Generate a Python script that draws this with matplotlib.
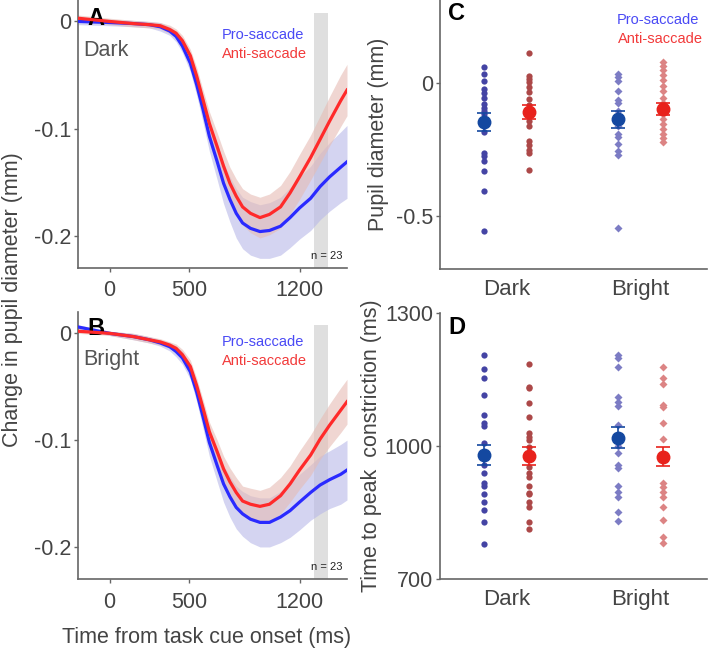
import numpy as np
import matplotlib
matplotlib.use("Agg")
import matplotlib.pyplot as plt

plt.rcParams['font.family'] = ['Liberation Sans', 'DejaVu Sans']

# ---- time courses (panels A, B) ----
t = [-200, 0, 150, 250, 320, 380, 420, 460, 510, 550, 590, 630, 680, 720, 760,
     800, 840, 890, 950, 1010, 1080, 1140, 1200, 1270, 1330, 1390, 1460, 1500]

dark_pro = [0.0, -0.001, -0.002, -0.003, -0.005, -0.009, -0.014, -0.023, -0.039,
            -0.059, -0.082, -0.107, -0.131, -0.151, -0.166, -0.179, -0.188,
            -0.193, -0.196, -0.195, -0.191, -0.183, -0.174, -0.165, -0.154,
            -0.145, -0.136, -0.131]
dark_anti = [0.003, 0.0, -0.002, -0.003, -0.004, -0.0075, -0.011, -0.018, -0.032,
             -0.051, -0.073, -0.095, -0.117, -0.135, -0.151, -0.163, -0.173,
             -0.179, -0.183, -0.180, -0.173, -0.160, -0.145, -0.127, -0.110,
             -0.093, -0.074, -0.064]
dark_pro_sem = [0.003, 0.003, 0.003, 0.003, 0.004, 0.004, 0.005, 0.006, 0.008,
                0.010, 0.012, 0.014, 0.017, 0.019, 0.021, 0.023, 0.024, 0.025,
                0.025, 0.026, 0.027, 0.028, 0.029, 0.030, 0.031, 0.032, 0.033,
                0.034]
dark_anti_sem = [0.003, 0.003, 0.003, 0.003, 0.003, 0.004, 0.004, 0.005, 0.006,
                 0.008, 0.009, 0.011, 0.013, 0.014, 0.015, 0.016, 0.017, 0.018,
                 0.019, 0.019, 0.020, 0.020, 0.021, 0.021, 0.022, 0.023, 0.024,
                 0.024]

bright_pro = [0.006, 0.0, -0.003, -0.006, -0.009, -0.0125, -0.017, -0.023, -0.036,
              -0.055, -0.078, -0.102, -0.124, -0.141, -0.153, -0.163, -0.169,
              -0.174, -0.177, -0.177, -0.172, -0.166, -0.158, -0.149, -0.142,
              -0.137, -0.132, -0.128]
bright_anti = [0.002, 0.0, -0.003, -0.006, -0.008, -0.011, -0.014, -0.020, -0.031,
               -0.049, -0.070, -0.092, -0.111, -0.127, -0.139, -0.149, -0.157,
               -0.160, -0.162, -0.160, -0.152, -0.141, -0.128, -0.114, -0.099,
               -0.086, -0.072, -0.064]
bright_pro_sem = [0.002, 0.002, 0.003, 0.003, 0.003, 0.004, 0.005, 0.006, 0.007,
                  0.009, 0.011, 0.013, 0.015, 0.017, 0.019, 0.020, 0.021, 0.022,
                  0.023, 0.023, 0.024, 0.025, 0.026, 0.026, 0.027, 0.027, 0.028,
                  0.028]
bright_anti_sem = [0.002, 0.002, 0.003, 0.003, 0.003, 0.003, 0.004, 0.005, 0.006,
                   0.007, 0.008, 0.009, 0.011, 0.012, 0.013, 0.014, 0.014, 0.015,
                   0.015, 0.016, 0.017, 0.017, 0.018, 0.019, 0.019, 0.020, 0.021,
                   0.021]

window = (1290, 1380)
x_ticks = [0, 500, 1200]

# ---- per-subject values (panels C, D) ----
conditions = ['Dark', 'Bright']

pd_dark_pro = [0.059, 0.034, 0.007, -0.024, -0.038, -0.057, -0.082, -0.094, -0.107,
               -0.119, -0.138, -0.163, -0.185, -0.265, -0.277, -0.293, -0.333,
               -0.409, -0.559]
pd_dark_anti = [0.111, 0.026, 0.014, 0.001, -0.016, -0.036, -0.061, -0.086, -0.103,
                -0.126, -0.144, -0.163, -0.219, -0.235, -0.253, -0.265, -0.327]
pd_bright_pro = [0.032, 0.020, 0.005, -0.030, -0.067, -0.078, -0.107, -0.128, -0.163,
                 -0.194, -0.206, -0.231, -0.256, -0.272, -0.546]
pd_bright_anti = [0.077, 0.061, 0.046, 0.030, 0.011, -0.014, -0.032, -0.057, -0.076,
                  -0.119, -0.138, -0.157, -0.175, -0.194, -0.210, -0.225]
pd_mean_pro = [-0.148, -0.138]
pd_sem_pro = [0.032, 0.032]
pd_mean_anti = [-0.111, -0.098]
pd_sem_anti = [0.026, 0.023]

tp_dark_pro = [1205, 1173, 1154, 1115, 1070, 1053, 1045, 1007, 980, 957, 938, 916,
               910, 892, 874, 856, 829, 778]
tp_dark_anti = [1185, 1132, 1130, 1096, 1065, 1029, 1021, 1014, 998, 984, 953, 938,
                931, 910, 893, 892, 874, 863, 829, 812]
tp_bright_pro = [1205, 1198, 1179, 1111, 1100, 1090, 1047, 1000, 984, 957, 950,
                 910, 897, 884, 852, 831]
tp_bright_anti = [1178, 1153, 1140, 1093, 1088, 1053, 1015, 916, 907, 897, 884,
                  863, 833, 795, 782]
tp_mean_pro = [980, 1019]
tp_sem_pro = [23, 23]
tp_mean_anti = [977, 976]
tp_sem_anti = [20, 22]

# colours
c_pro_line = '#2a2aff'
c_anti_line = '#ff2a2a'
c_pro_band = '#b8b8e8'
c_anti_band = '#e6bcb4'
c_text = '#444444'
c_spine = '#666666'

fig = plt.figure(figsize=(7.10, 6.49), dpi=100)

W, H = 710.0, 649.0
def box(l, r, top, bot):
    return [l / W, 1 - bot / H, (r - l) / W, (bot - top) / H]

axA = fig.add_axes(box(78, 347, 0, 268))
axB = fig.add_axes(box(78, 347, 312, 579))
axC = fig.add_axes(box(440, 707, 0, 269))
axD = fig.add_axes(box(440, 707, 313, 579))


def style(ax):
    for s in ['top', 'right']:
        ax.spines[s].set_visible(False)
    for s in ['left', 'bottom']:
        ax.spines[s].set_color(c_spine)
        ax.spines[s].set_linewidth(1.2)
    ax.tick_params(colors=c_spine, labelcolor=c_text, labelsize=15.5, length=3,
                   width=1, pad=2)


def timecourse(ax, pro, pro_sem, anti, anti_sem, label, letter, pos):
    tt = np.array(t)
    pro, pro_sem = np.array(pro), np.array(pro_sem)
    anti, anti_sem = np.array(anti), np.array(anti_sem)
    ax.axvspan(window[0], window[1], ymax=0.95, color='#dcdcdc', alpha=0.9, lw=0,
               zorder=0)
    ax.fill_between(tt, pro - pro_sem, pro + pro_sem, color=c_pro_band, alpha=0.6,
                    lw=0, zorder=1)
    ax.fill_between(tt, anti - anti_sem, anti + anti_sem, color=c_anti_band,
                    alpha=0.6, lw=0, zorder=1)
    ax.plot(tt, pro, color=c_pro_line, lw=2.3, zorder=3, solid_joinstyle='round')
    ax.plot(tt, anti, color=c_anti_line, lw=2.3, zorder=4, solid_joinstyle='round')
    ax.set_xlim(-200, 1500)
    ax.set_ylim(-0.23, 0.02)
    ax.set_xticks(x_ticks)
    ax.set_xticklabels([str(v) for v in x_ticks])
    ax.set_yticks([0, -0.1, -0.2])
    ax.set_yticklabels(['0', '-0.1', '-0.2'])
    style(ax)
    ax.tick_params(axis='x', pad=6)
    ax.text(0.035, pos[0], letter, transform=ax.transAxes, fontsize=17,
            fontweight='bold', color='black', va='center')
    ax.text(0.02, pos[1], label, transform=ax.transAxes, fontsize=15.5,
            color='#555555', va='center')
    ax.text(0.535, pos[2], 'Pro-saccade', transform=ax.transAxes, fontsize=10.5,
            color='#4a4af5', va='center')
    ax.text(0.535, pos[3], 'Anti-saccade', transform=ax.transAxes, fontsize=10.5,
            color='#f23a3a', va='center')
    ax.text(0.985, 0.025, 'n = 23', transform=ax.transAxes, fontsize=8,
            color='#222222', ha='right', va='bottom')


timecourse(axA, dark_pro, dark_pro_sem, dark_anti, dark_anti_sem, 'Dark', 'A',
           (0.932, 0.81, 0.87, 0.80))
timecourse(axB, bright_pro, bright_pro_sem, bright_anti, bright_anti_sem,
           'Bright', 'B', (0.94, 0.822, 0.889, 0.816))

fig.text(13 / W, 1 - 300 / H, 'Change in pupil diameter (mm)', rotation=90,
         ha='center', va='center', fontsize=15.5, color=c_text)
fig.text(207 / W, 1 - 637 / H, 'Time from task cue onset (ms)', ha='center',
         va='center', fontsize=15.5, color=c_text)


def scatter_panel(ax, groups, means_pro, sem_pro, means_anti, sem_anti):
    off = 0.17
    dark_pro_vals, dark_anti_vals, bright_pro_vals, bright_anti_vals = groups
    ax.plot(np.full(len(dark_pro_vals), 1 - off), dark_pro_vals, 'o',
            color='#4444a4', ms=4.5, mec='none', zorder=2)
    ax.plot(np.full(len(dark_anti_vals), 1 + off), dark_anti_vals, 'o',
            color='#ac4848', ms=4.5, mec='none', zorder=2)
    ax.plot(np.full(len(bright_pro_vals), 2 - off), bright_pro_vals, 'D',
            color='#7c7cc4', ms=4.3, mec='none', zorder=2)
    ax.plot(np.full(len(bright_anti_vals), 2 + off), bright_anti_vals, 'D',
            color='#dc8484', ms=4.3, mec='none', zorder=2)
    xs = np.array([1, 2])
    ax.errorbar(xs - off, means_pro, yerr=sem_pro, fmt='o', color='#1448a0',
                ms=9, capsize=5, elinewidth=1.2, capthick=1.2, zorder=4)
    ax.errorbar(xs + off, means_anti, yerr=sem_anti, fmt='o', color='#e8221c',
                ms=9, capsize=5, elinewidth=1.2, capthick=1.2, zorder=4)
    ax.set_xlim(0.5, 2.5)
    ax.set_xticks([1, 2])
    ax.set_xticklabels(conditions)
    style(ax)
    ax.tick_params(axis='x', length=0, pad=7, labelsize=16)


scatter_panel(axC, (pd_dark_pro, pd_dark_anti, pd_bright_pro, pd_bright_anti),
              pd_mean_pro, pd_sem_pro, pd_mean_anti, pd_sem_anti)
axC.set_ylim(-0.7, 0.31)
axC.set_yticks([0, -0.5])
axC.set_yticklabels(['0', '-0.5'])
axC.set_ylabel('Pupil diameter (mm)', fontsize=15.5, color=c_text, labelpad=5)
axC.text(0.03, 0.95, 'C', transform=axC.transAxes, fontsize=17,
         fontweight='bold', color='black', va='center')
axC.text(0.97, 0.925, 'Pro-saccade', transform=axC.transAxes, fontsize=10.5,
         color='#4a4af5', ha='right', va='center')
axC.text(0.985, 0.855, 'Anti-saccade', transform=axC.transAxes, fontsize=10.5,
         color='#f23a3a', ha='right', va='center')

scatter_panel(axD, (tp_dark_pro, tp_dark_anti, tp_bright_pro, tp_bright_anti),
              tp_mean_pro, tp_sem_pro, tp_mean_anti, tp_sem_anti)
axD.set_ylim(700, 1300)
axD.set_yticks([700, 1000, 1300])
axD.set_ylabel('Time to peak  constriction (ms)', fontsize=15.5, color=c_text,
               labelpad=2)
axD.text(0.03, 0.945, 'D', transform=axD.transAxes, fontsize=17,
         fontweight='bold', color='black', va='center')

fig.savefig('out.png', dpi=100)
